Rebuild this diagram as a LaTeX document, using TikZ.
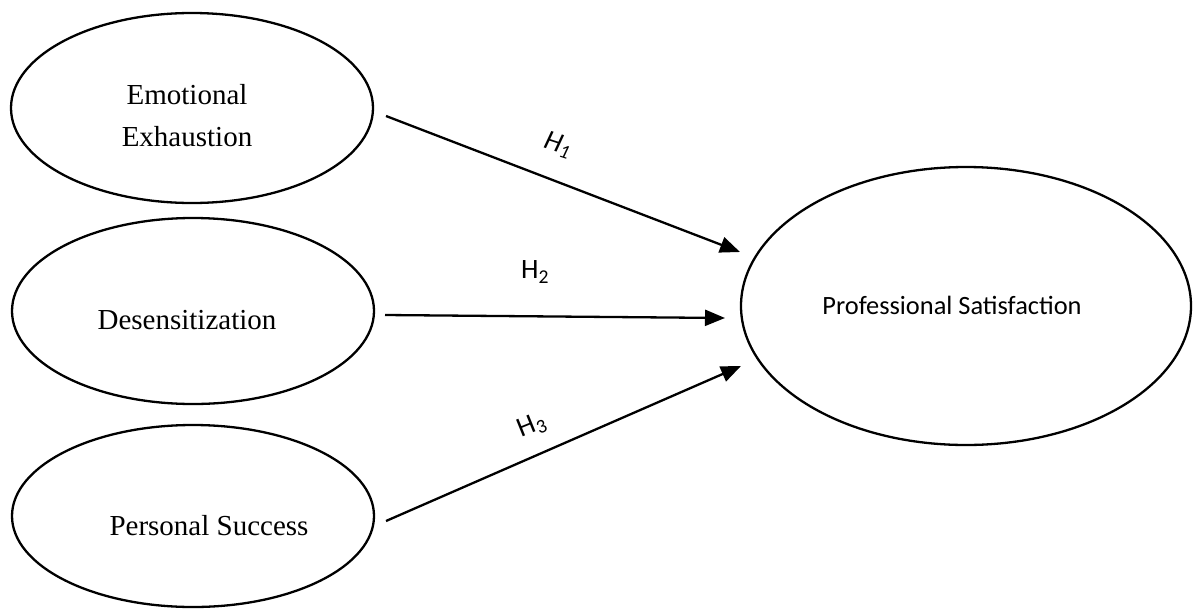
\documentclass[tikz,border=0pt]{standalone}
\usepackage{fontspec}
\setmainfont{Liberation Serif}
\newfontfamily\labfont{Carlito}
\usetikzlibrary{shapes.geometric,arrows.meta}
\tikzset{
  construct/.style={draw, ellipse, line width=2.3pt, inner sep=0pt},
  sertext/.style={font=\fontsize{29}{42}\selectfont, align=center, inner sep=0pt},
  santext/.style={font=\labfont\fontsize{26.4}{30}\selectfont, inner sep=0pt},
  hyplab/.style={font=\labfont\fontsize{28}{30}\selectfont, inner sep=0pt},
  path/.style={line width=2.3pt, -{Triangle[length=20pt,width=16pt]}}
}
\begin{document}
\begin{tikzpicture}[x=1pt,y=-1pt]
\useasboundingbox (0,0) rectangle (1196,608);
% ellipses
\node[construct, minimum width=362pt, minimum height=190pt] (ee) at (192,108) {};
\node[construct, minimum width=362pt, minimum height=186pt] (de) at (193,311) {};
\node[construct, minimum width=362pt, minimum height=182pt] (ps) at (193,516) {};
\node[construct, minimum width=450pt, minimum height=278pt] (sat) at (966,306) {};
% texts
\node[sertext] (eet) at (187,116) {Emotional\\Exhaustion};
\node[sertext] (det) at (187,320) {Desensitization};
\node[sertext] (pst) at (209,526) {Personal Success};
\node[santext] (satt) at (952,305) {Professional Satisfaction};
% connector endpoints
\coordinate (s1) at (386,116);
\coordinate (e1) at (740,252);
\coordinate (s2) at (385,315);
\coordinate (e2) at (725,318);
\coordinate (s3) at (386,521);
\coordinate (e3) at (741,366);
\draw[path] (s1) -- (e1);
\draw[path] (s2) -- (e2);
\draw[path] (s3) -- (e3);
% labels
\node[hyplab, rotate=-18] (h1) at (558,145) {\itshape H\textsubscript{1}};
\node[hyplab] (h2) at (535,272) {H\textsubscript{2}};
\node[hyplab, rotate=22] (h3) at (532,426) {H\textsubscript{3}};
\end{tikzpicture}
\end{document}
